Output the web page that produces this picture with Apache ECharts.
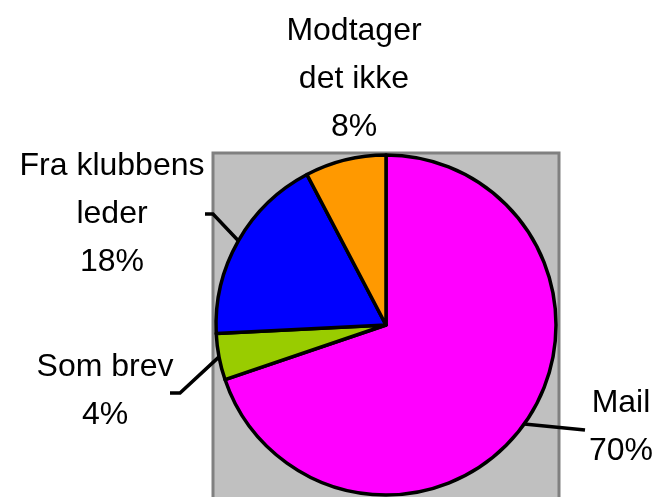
<!DOCTYPE html>
<html>
<head>
<meta charset="utf-8">
<script src="https://cdn.jsdelivr.net/npm/echarts@6/dist/echarts.min.js"></script>
<style>
  html, body { margin: 0; padding: 0; background: #fff; }
  #main { width: 659px; height: 497px; }
</style>
</head>
<body>
<div id="main"></div>
<script>
// data (percent of answers)
var categories = ['Mail', 'Som brev', 'Fra klubbens leder', 'Modtager det ikke'];
var labelNames = ['Mail', 'Som brev', 'Fra klubbens\nleder', 'Modtager\ndet ikke'];
var values = [69.8, 4.4, 18.1, 7.7];
var colors = ['#FF00FF', '#99CC00', '#0000FF', '#FF9900'];

var cx = 386, cy = 325, r = 170;

// where each label sits and how its leader line bends
var labelPos = [
    { x: 621, y: 427, line: [[585, 430]] },
    { x: 105, y: 391, line: [[180, 393], [170, 393]] },
    { x: 112, y: 214, line: [[213, 214], [205, 214]] },
    { x: 354, y: 79, line: null }
];

var myChart = echarts.init(document.getElementById('main'), null, { renderer: 'canvas' });

// edge point at the middle of a slice, used if the library gives none
function edgePoint(idx) {
    var total = 0, before = 0;
    for (var i = 0; i < values.length; i++) {
        total += values[i];
        if (i < idx) before += values[i];
    }
    var a = (before + values[idx] / 2) / total * Math.PI * 2;
    return [cx + r * Math.sin(a), cy - r * Math.cos(a)];
}

var pieData = [];
for (var i = 0; i < categories.length; i++) {
    pieData.push({
        name: categories[i],
        value: values[i],
        itemStyle: { color: colors[i] },
        labelLine: { show: labelPos[i].line !== null }
    });
}

var option = {
    animation: false,
    graphic: [{
        type: 'rect',
        z: -1,
        shape: { x: cx - r - 3, y: cy - r - 2, width: 2 * r + 6, height: 2 * r + 40 },
        style: { fill: '#C0C0C0', stroke: '#808080', lineWidth: 3 }
    }],
    series: [{
        type: 'pie',
        center: [cx, cy],
        radius: r,
        startAngle: 90,
        clockwise: true,
        avoidLabelOverlap: false,
        emphasis: { disabled: true },
        itemStyle: { borderColor: '#000', borderWidth: 3.5 },
        label: {
            position: 'outside',
            color: '#000',
            fontFamily: 'Liberation Sans, Arial, sans-serif',
            fontSize: 32,
            lineHeight: 48,
            align: 'center',
            formatter: function (p) {
                return labelNames[p.dataIndex] + '\n' + Math.round(p.percent) + '%';
            }
        },
        labelLine: {
            show: true,
            length: 10,
            length2: 10,
            lineStyle: { color: '#000', width: 3.5 }
        },
        labelLayout: function (params) {
            var lp = labelPos[params.dataIndex];
            var res = { x: lp.x, y: lp.y, align: 'center', verticalAlign: 'middle' };
            if (lp.line) {
                var p0 = (params.labelLinePoints && params.labelLinePoints[0]) || edgePoint(params.dataIndex);
                var pts = [p0].concat(lp.line);
                if (pts.length < 3) pts.push(lp.line[lp.line.length - 1]);
                res.labelLinePoints = pts;
            }
            return res;
        },
        data: pieData
    }]
};

myChart.setOption(option);
</script>
</body>
</html>
